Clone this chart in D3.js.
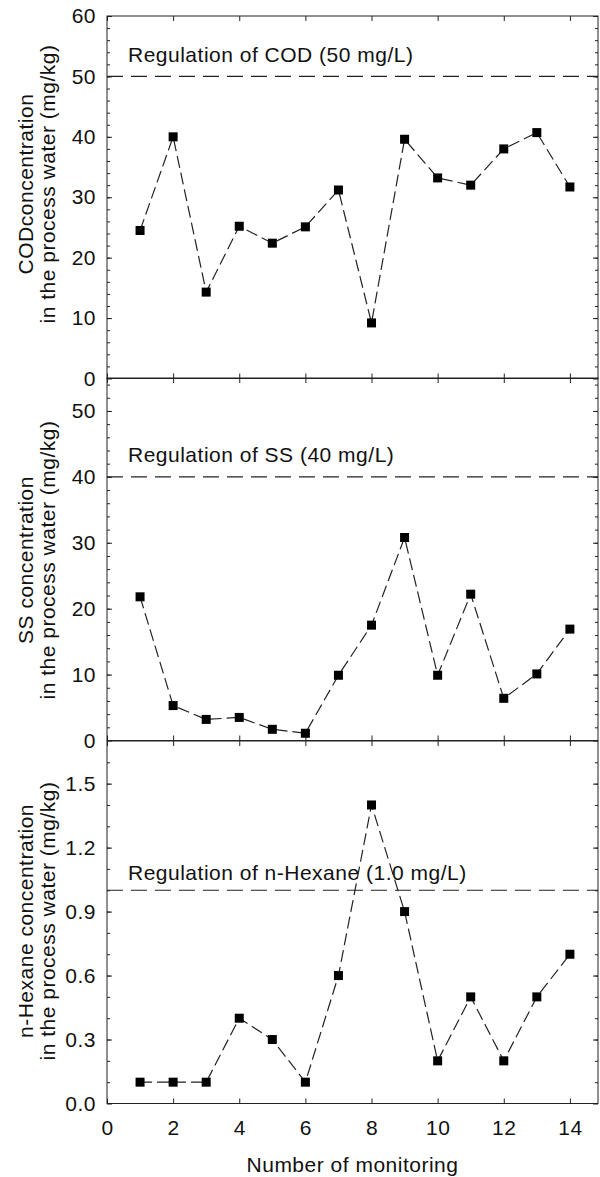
<!DOCTYPE html>
<html>
<head>
<meta charset="utf-8">
<script src="https://cdn.jsdelivr.net/npm/d3@7"></script>
<style>
  body { margin: 0; background: #fff; }
  text { font-family: "Liberation Sans", Arial, sans-serif; fill: #111; letter-spacing: 0.5px; }
  .tick line { stroke: #222; }
  .domain { display: none; }
</style>
</head>
<body>
<script>
// data
var monitoring = [1, 2, 3, 4, 5, 6, 7, 8, 9, 10, 11, 12, 13, 14];
var codValues = [24.5, 40.0, 14.3, 25.2, 22.4, 25.1, 31.2, 9.2, 39.6, 33.2, 32.0, 38.0, 40.7, 31.7];
var ssValues = [21.8, 5.3, 3.2, 3.5, 1.7, 1.1, 9.9, 17.5, 30.8, 9.9, 22.2, 6.4, 10.1, 16.9];
var hexaneValues = [0.1, 0.1, 0.1, 0.4, 0.3, 0.1, 0.6, 1.4, 0.9, 0.2, 0.5, 0.2, 0.5, 0.7];

var regulationValues = [50, 40, 1.0];
var regulationLabels = ["Regulation of COD (50 mg/L)", "Regulation of SS (40 mg/L)", "Regulation of n-Hexane (1.0 mg/L)"];

var titleLine1 = ["CODconcentration", "SS concentration", "n-Hexane concentration"];
var titleLine2 = ["in the process water (mg/kg)", "in the process water (mg/kg)", "in the process water (mg/kg)"];

var yDomains = [[0, 60], [0, 55], [0, 1.7]];
var yMajorTicks = [
    [0, 10, 20, 30, 40, 50, 60],
    [0, 10, 20, 30, 40, 50],
    [0, 0.3, 0.6, 0.9, 1.2, 1.5]
];
var yMinorSteps = [2, 2, 0.1];
var yTickFormats = ["d", "d", ".1f"];

var xDomain = [0, 14.85];
var xTicks = [0, 2, 4, 6, 8, 10, 12, 14];
var xTitle = "Number of monitoring";

// layout properties
var p = {
    width: 600,
    height: 1177,
    left: 107,
    right: 598,
    panelTops: [16, 378, 741],
    panelHeight: 362.5,
    // gap between regulation line and its label
    labelLift: [14, 15, 10],
    labelX: 128,
    // centre of each y title
    titleCenter: [184, 560, 921],
    fontSize: 21,
    markerSize: 9
};

var svg = d3.select("body").append("svg")
    .attr("width", p.width)
    .attr("height", p.height);

var x = d3.scaleLinear().domain(xDomain).range([p.left, p.right]);

var panels = [codValues, ssValues, hexaneValues];

panels.forEach(function(values, i) {
    var top = p.panelTops[i];
    var bottom = top + p.panelHeight;
    var y = d3.scaleLinear().domain(yDomains[i]).range([bottom, top]);
    var g = svg.append("g");

    // minor ticks every step
    var minors = d3.range(yDomains[i][0], yDomains[i][1] + 1e-9, yMinorSteps[i])
        .filter(function(v) { return v > 0 && v < yDomains[i][1] - 1e-9; });

    // left axis, major with labels
    var left = g.append("g").attr("transform", "translate(" + p.left + ",0)")
        .call(d3.axisLeft(y).tickValues(yMajorTicks[i]).tickSize(-5).tickPadding(11)
            .tickFormat(d3.format(yTickFormats[i])));
    left.selectAll("text").style("font-size", p.fontSize + "px").attr("fill", "#111");
    g.append("g").attr("transform", "translate(" + p.left + ",0)")
        .call(d3.axisLeft(y).tickValues(minors).tickSize(-3).tickFormat(""));

    // right axis, ticks only
    g.append("g").attr("transform", "translate(" + p.right + ",0)")
        .call(d3.axisRight(y).tickValues(yMajorTicks[i]).tickSize(-5).tickFormat(""));
    g.append("g").attr("transform", "translate(" + p.right + ",0)")
        .call(d3.axisRight(y).tickValues(minors).tickSize(-3).tickFormat(""));

    // top and bottom ticks
    g.append("g").attr("transform", "translate(0," + top + ")")
        .call(d3.axisTop(x).tickValues(xTicks).tickSize(-5).tickFormat(""));
    var bottomAxis = g.append("g").attr("transform", "translate(0," + bottom + ")")
        .call(d3.axisBottom(x).tickValues(xTicks).tickSize(-5).tickPadding(17)
            .tickFormat(i == 2 ? d3.format("d") : ""));
    bottomAxis.selectAll("text").style("font-size", p.fontSize + "px").attr("fill", "#111");

    // frame
    g.append("rect")
        .attr("x", p.left).attr("y", top)
        .attr("width", p.right - p.left).attr("height", p.panelHeight)
        .attr("fill", "none").attr("stroke", "#222").attr("stroke-width", 1);

    // y title, two lines
    var title = g.append("g")
        .attr("transform", "translate(0," + p.titleCenter[i] + ") rotate(-90)");
    title.append("text").attr("x", 0).attr("y", 33)
        .attr("text-anchor", "middle").style("font-size", p.fontSize + "px")
        .text(titleLine1[i]);
    title.append("text").attr("x", 0).attr("y", 55)
        .attr("text-anchor", "middle").style("font-size", p.fontSize + "px")
        .text(titleLine2[i]);

    // regulation line and label
    g.append("line")
        .attr("x1", p.left).attr("x2", p.right)
        .attr("y1", y(regulationValues[i])).attr("y2", y(regulationValues[i]))
        .attr("stroke", "#222").attr("stroke-width", 1.2)
        .attr("stroke-dasharray", "16,8");
    g.append("text")
        .attr("x", p.labelX)
        .attr("y", y(regulationValues[i]) - p.labelLift[i])
        .style("font-size", p.fontSize + "px")
        .text(regulationLabels[i]);

    // data line
    var line = d3.line()
        .x(function(d, j) { return x(monitoring[j]); })
        .y(function(d) { return y(d); });
    g.append("path")
        .datum(values)
        .attr("d", line)
        .attr("fill", "none")
        .attr("stroke", "#222")
        .attr("stroke-width", 1.2)
        .attr("stroke-dasharray", "12,5");

    // square markers
    g.selectAll("rect.marker")
        .data(values)
        .enter().append("rect")
        .attr("class", "marker")
        .attr("x", function(d, j) { return x(monitoring[j]) - p.markerSize / 2; })
        .attr("y", function(d) { return y(d) - p.markerSize / 2; })
        .attr("width", p.markerSize)
        .attr("height", p.markerSize)
        .attr("fill", "#000");
});

// x title
svg.append("text")
    .attr("x", (p.left + p.right) / 2)
    .attr("y", 1172)
    .attr("text-anchor", "middle")
    .style("font-size", p.fontSize + "px")
    .text(xTitle);
</script>
</body>
</html>
